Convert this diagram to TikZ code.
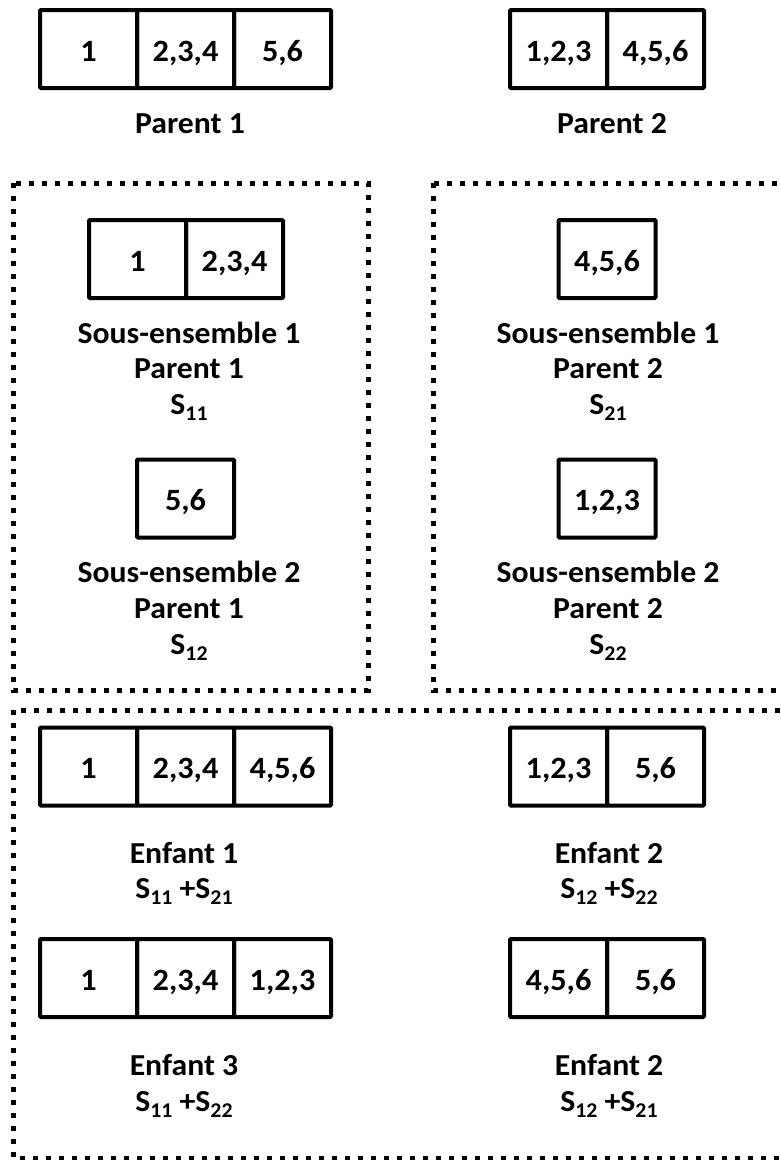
\documentclass[tikz,border=0pt]{standalone}
\usepackage{fontspec}
\setmainfont{Carlito}[FakeStretch=1.04]
\newcommand\sbs[1]{\raisebox{-6.5pt}{\fontsize{21}{21}\selectfont #1}}
\begin{document}
\begin{tikzpicture}[x=1pt,y=-1pt,
  cell/.style={draw=black,line width=4pt,rounded corners=1pt,minimum width=97pt,minimum height=78pt,inner sep=0pt,text height=24pt,text depth=0pt,font=\fontsize{31}{34}\selectfont\bfseries},
  lbl/.style={anchor=base,inner sep=0pt,font=\fontsize{30.5}{34}\selectfont\bfseries},
  dotbox/.style={draw=black,line width=5pt,dash pattern=on 5pt off 8pt}]
\useasboundingbox (0,0) rectangle (781,1160);
% dotted frames
\draw[dotbox] (13,183) rectangle (368,690);
\draw[dotbox] (433,183) rectangle (800,690);
\draw[dotbox] (13,710) rectangle (800,1158);
% Parent 1
\node[cell] (p1a) at (88.5,49) {1};
\node[cell] (p1b) at (185.5,49) {2,3,4};
\node[cell] (p1c) at (282.5,49) {5,6};
\node[lbl] (p1l) at (190,133) {Parent 1};
% Parent 2
\node[cell] (p2a) at (558.5,49) {1,2,3};
\node[cell] (p2b) at (655.5,49) {4,5,6};
\node[lbl] (p2l) at (612,133) {Parent 2};
% S11
\node[cell] (s11a) at (137.5,259) {1};
\node[cell] (s11b) at (234.5,259) {2,3,4};
\node[lbl] (s11l1) at (189,343) {Sous-ensemble 1};
\node[lbl] (s11l2) at (189,378) {Parent 1};
\node[lbl] (s11l3) at (189,414) {S\sbs{11}};
% S12
\node[cell] (s12a) at (185.5,498.5) {5,6};
\node[lbl] (s12l1) at (189,582) {Sous-ensemble 2};
\node[lbl] (s12l2) at (189,618) {Parent 1};
\node[lbl] (s12l3) at (189,654) {S\sbs{12}};
% S21
\node[cell] (s21a) at (607,259) {4,5,6};
\node[lbl] (s21l1) at (608,343) {Sous-ensemble 1};
\node[lbl] (s21l2) at (608,378) {Parent 2};
\node[lbl] (s21l3) at (608,414) {S\sbs{21}};
% S22
\node[cell] (s22a) at (607,498.5) {1,2,3};
\node[lbl] (s22l1) at (608,582) {Sous-ensemble 2};
\node[lbl] (s22l2) at (608,618) {Parent 2};
\node[lbl] (s22l3) at (608,654) {S\sbs{22}};
% Enfant 1
\node[cell] (e1a) at (88.5,766.5) {1};
\node[cell] (e1b) at (185.5,766.5) {2,3,4};
\node[cell] (e1c) at (282.5,766.5) {4,5,6};
\node[lbl] (e1l1) at (184,863) {Enfant 1};
\node[lbl] (e1l2) at (184,898) {S\sbs{11} +S\sbs{21}};
% Enfant 2
\node[cell] (e2a) at (558.5,766.5) {1,2,3};
\node[cell] (e2b) at (655.5,766.5) {5,6};
\node[lbl] (e2l1) at (609,863) {Enfant 2};
\node[lbl] (e2l2) at (609,898) {S\sbs{12} +S\sbs{22}};
% Enfant 3
\node[cell] (e3a) at (88.5,978) {1};
\node[cell] (e3b) at (185.5,978) {2,3,4};
\node[cell] (e3c) at (282.5,978) {1,2,3};
\node[lbl] (e3l1) at (184,1075) {Enfant 3};
\node[lbl] (e3l2) at (184,1111) {S\sbs{11} +S\sbs{22}};
% Enfant 2 (second)
\node[cell] (e4a) at (558.5,978) {4,5,6};
\node[cell] (e4b) at (655.5,978) {5,6};
\node[lbl] (e4l1) at (609,1075) {Enfant 2};
\node[lbl] (e4l2) at (609,1111) {S\sbs{12} +S\sbs{21}};
\end{tikzpicture}
\end{document}
